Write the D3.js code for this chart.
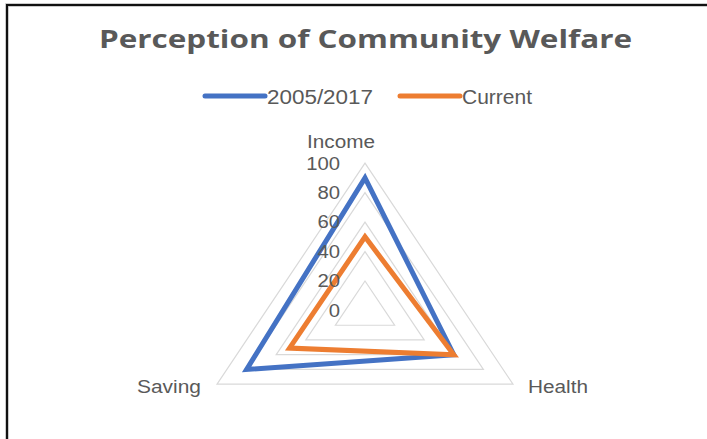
<!DOCTYPE html>
<html>
<head>
<meta charset="utf-8">
<script src="https://cdnjs.cloudflare.com/ajax/libs/d3/7.8.5/d3.min.js"></script>
<style>
  body { margin: 0; background: #fff; }
  text { font-family: "Liberation Sans", Arial, sans-serif; fill: #595959; }
</style>
</head>
<body>
<div id="chart"></div>
<script>
// chart data
var axes = ["Income", "Health", "Saving"];
var seriesNames = ["2005/2017", "Current"];
var seriesColors = ["#4472C4", "#ED7D31"];
var values2005 = [90, 60, 80];
var valuesCurrent = [50, 60, 51];
var ticks = [0, 20, 40, 60, 80, 100];

var width = 707, height = 439;
var cx = 365, cy = 310.5, R = 147.3;
var sx = 1.16; // the original is stretched horizontally

var svg = d3.select("#chart")
    .append("svg")
    .attr("width", width)
    .attr("height", height);

// frame (top and left edges only, as in the picture)
svg.append("path")
    .attr("d", "M7,440 L7,5 L708,5")
    .attr("fill", "none")
    .attr("stroke", "#bbb")
    .attr("stroke-width", 3.5);
svg.append("path")
    .attr("d", "M7,440 L7,5 L708,5")
    .attr("fill", "none")
    .attr("stroke", "#111")
    .attr("stroke-width", 2);

var r = d3.scaleLinear().domain([0, 100]).range([0, R]);
var angle = d3.scaleBand().domain(axes).range([0, 2 * Math.PI]).paddingInner(0).align(0);

function pt(axis, v) {
    var a = angle(axis);
    return [cx + Math.sin(a) * r(v) * sx, cy - Math.cos(a) * r(v)];
}

var line = d3.line().curve(d3.curveLinearClosed);

// grid rings
svg.append("g").selectAll("path")
    .data(ticks.filter(function (t) { return t > 0; }))
    .enter().append("path")
    .attr("d", function (t) {
        return line(axes.map(function (a) { return pt(a, t); }));
    })
    .attr("fill", "none")
    .attr("stroke", "#d9d9d9")
    .attr("stroke-width", 1.2);

// series
var series = [values2005, valuesCurrent];
svg.append("g").selectAll("path")
    .data(series)
    .enter().append("path")
    .attr("d", function (vals) {
        return line(axes.map(function (a, i) { return pt(a, vals[i]); }));
    })
    .attr("fill", "none")
    .attr("stroke", function (d, i) { return seriesColors[i]; })
    .attr("stroke-width", 5)
    .attr("stroke-linejoin", "miter");

// tick labels
svg.append("g").selectAll("text")
    .data(ticks)
    .enter().append("text")
    .attr("transform", function (t) {
        return "translate(340," + (cy - r(t) + 6.3) + ") scale(" + sx + ",1)";
    })
    .attr("text-anchor", "end")
    .style("font-size", "17.5px")
    .text(function (t) { return t; });

// axis labels
var labelPos = {
    "Income": { x: 307, y: 148, w: 68 },
    "Health": { x: 528, y: 393, w: 60 },
    "Saving": { x: 137, y: 393, w: 64 }
};
svg.append("g").selectAll("text")
    .data(axes)
    .enter().append("text")
    .attr("x", function (d) { return labelPos[d].x; })
    .attr("y", function (d) { return labelPos[d].y; })
    .attr("textLength", function (d) { return labelPos[d].w; })
    .attr("lengthAdjust", "spacingAndGlyphs")
    .style("font-size", "17.5px")
    .text(function (d) { return d; });

// title
svg.append("text")
    .attr("x", 99)
    .attr("y", 48)
    .attr("textLength", 533)
    .attr("lengthAdjust", "spacingAndGlyphs")
    .style("font-family", "'Open Sans', sans-serif")
    .style("font-weight", "bold")
    .style("font-size", "25px")
    .text("Perception of Community Welfare");

// legend
var legendPos = [{ x: 205, w: 106 }, { x: 400, w: 70 }];
var legend = svg.append("g").selectAll("g")
    .data(seriesNames)
    .enter().append("g");
legend.append("line")
    .attr("x1", function (d, i) { return legendPos[i].x; })
    .attr("x2", function (d, i) { return legendPos[i].x + 60; })
    .attr("y1", 96)
    .attr("y2", 96)
    .attr("stroke", function (d, i) { return seriesColors[i]; })
    .attr("stroke-width", 5)
    .attr("stroke-linecap", "round");
legend.append("text")
    .attr("x", function (d, i) { return legendPos[i].x + 62; })
    .attr("y", 104)
    .attr("textLength", function (d, i) { return legendPos[i].w; })
    .attr("lengthAdjust", "spacingAndGlyphs")
    .style("font-size", "20px")
    .text(function (d) { return d; });
</script>
</body>
</html>
